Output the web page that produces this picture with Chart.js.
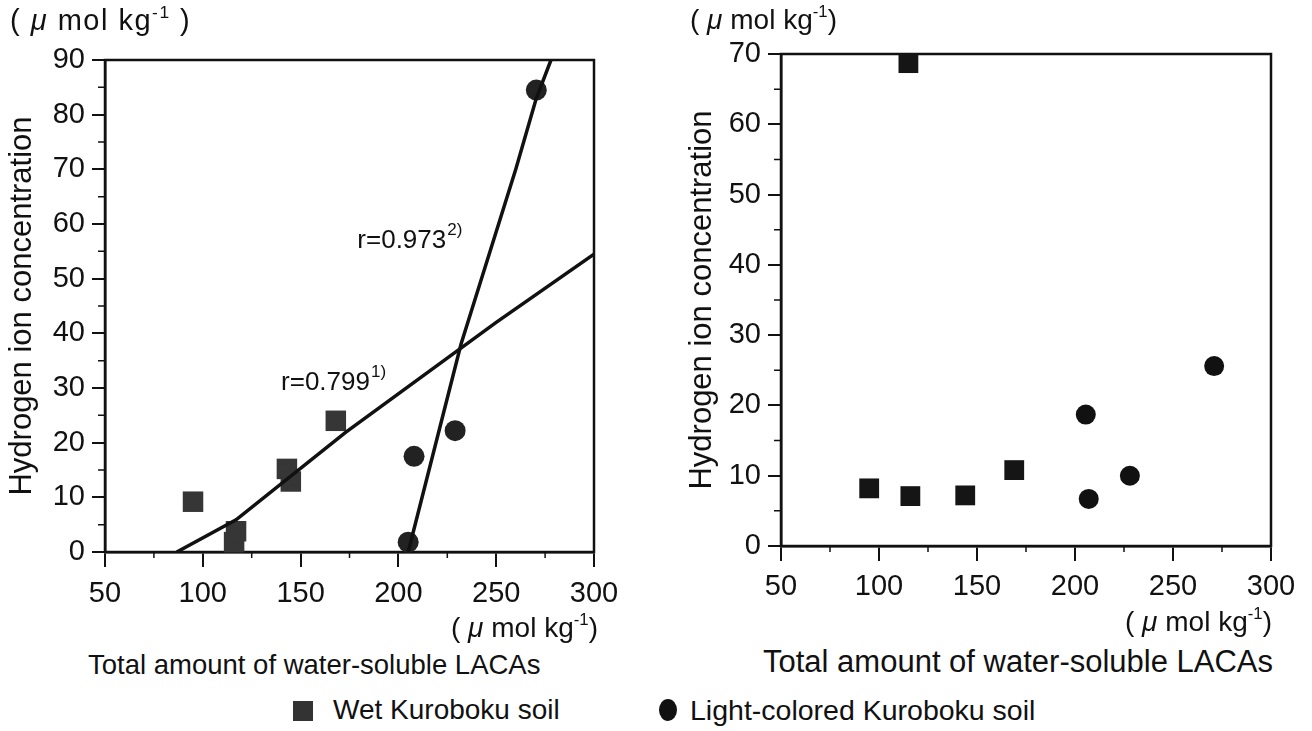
<!DOCTYPE html>
<html>
<head>
<meta charset="utf-8">
<script src="https://cdn.jsdelivr.net/npm/chart.js@4.4.1/dist/chart.umd.min.js"></script>
<style>
  body { margin: 0; width: 1312px; height: 731px; background: #fff; position: relative; overflow: hidden;
         font-family: 'Liberation Sans', Arial, sans-serif; color: #111; }
  .box { position: absolute; }
  .txt { position: absolute; white-space: nowrap; line-height: 1; }
  .txt sup { font-size: 0.6em; vertical-align: 0.7em; line-height: 0; }
  .mark { position: absolute; }
</style>
</head>
<body>
<div class="box" style="left:0;top:0;width:650px;height:640px"><canvas id="left"></canvas></div>
<div class="box" style="left:656px;top:0;width:656px;height:640px"><canvas id="right"></canvas></div>

<div class="txt" style="left:10px;top:6px;font-size:29px;letter-spacing:1.5px">(&nbsp;<i>μ</i>&nbsp;mol kg<sup>-1</sup>&nbsp;)</div>
<div class="txt" style="left:690px;top:6px;font-size:28px">(&nbsp;<i>μ</i> mol kg<sup>-1</sup>)</div>
<div class="txt" style="left:451px;top:614px;font-size:28px">(&nbsp;<i>μ</i> mol kg<sup>-1</sup>)</div>
<div class="txt" style="left:1125px;top:608px;font-size:28px">(&nbsp;<i>μ</i> mol kg<sup>-1</sup>)</div>
<div class="txt" style="left:88px;top:651px;font-size:27.5px">Total amount of water-soluble LACAs</div>
<div class="txt" style="left:763px;top:646px;font-size:31px">Total amount of water-soluble LACAs</div>

<div class="mark" style="left:293px;top:701px;width:20px;height:20px;background:#333"></div>
<div class="txt" style="left:333px;top:696px;font-size:28px">Wet Kuroboku soil</div>
<div class="mark" style="left:659px;top:699px;width:18px;height:22px;border-radius:50%;background:#111"></div>
<div class="txt" style="left:690px;top:696px;font-size:28.5px">Light-colored Kuroboku soil</div>

<script>
// axis ticks
const xTicks = [50, 100, 150, 200, 250, 300]
const xMinor = [75, 125, 175, 225, 275]
const yTicksLeft = [0, 10, 20, 30, 40, 50, 60, 70, 80, 90]
const yMinorLeft = [5, 15, 25, 35, 45, 55, 65, 75, 85]
const yTicksRight = [0, 10, 20, 30, 40, 50, 60, 70]
const yMinorRight = [5, 15, 25, 35, 45, 55, 65]

// left panel: measured points
const wetXLeft = [95, 116, 117, 143, 145, 168]
const wetYLeft = [9.2, 1.8, 3.8, 15.2, 12.9, 24]
const lightXLeft = [205, 208, 229, 270.5]
const lightYLeft = [1.8, 17.5, 22.2, 84.5]

// left panel: regression lines
const fitWetX = [86.7, 117, 173, 250, 300]
const fitWetY = [0, 5.9, 21.9, 42, 54.5]
const fitLightX = [205, 232, 260, 270.5, 278]
const fitLightY = [0, 38, 70, 83, 90]

// left panel: correlation labels (text, x, y, superscript)
const rLabels = [
    { text: 'r=0.973', sup: '2)', x: 179, y: 57 },
    { text: 'r=0.799', sup: '1)', x: 140, y: 31 },
]

// right panel: measured points
const wetXRight = [95, 115, 116, 144, 169]
const wetYRight = [8.2, 68.7, 7.1, 7.2, 10.8]
const lightXRight = [205.5, 207, 228, 271]
const lightYRight = [18.7, 6.7, 10.0, 25.6]

const FONT = "'Liberation Sans', Arial, sans-serif"
const INK = '#111'

const toPoints = (xs, ys) => xs.map((x, i) => ({ x, y: ys[i] }))

// box round the plot + minor ticks
const framePlugin = {
    id: 'frame',
    beforeDatasetsDraw(chart) {
        const { ctx, chartArea: a, scales } = chart
        const o = chart.options.plugins.frame
        ctx.save()
        ctx.strokeStyle = INK
        ctx.lineWidth = 2.5
        ctx.strokeRect(a.left, a.top, a.right - a.left, a.bottom - a.top)

        // minor ticks
        ctx.lineWidth = 1.5
        ctx.beginPath()
        for (const v of o.xMinor) {
            const px = scales.x.getPixelForValue(v)
            ctx.moveTo(px, a.bottom)
            ctx.lineTo(px, a.bottom + 6)
        }
        for (const v of o.yMinor) {
            const py = scales.y.getPixelForValue(v)
            ctx.moveTo(a.left, py)
            ctx.lineTo(a.left - 7, py)
        }
        ctx.stroke()
        ctx.restore()
    },
    afterDatasetsDraw(chart) {
        const { ctx, scales } = chart
        const labels = chart.options.plugins.frame.labels || []
        ctx.save()
        ctx.fillStyle = INK
        ctx.textBaseline = 'middle'
        ctx.textAlign = 'left'
        for (const l of labels) {
            const px = scales.x.getPixelForValue(l.x)
            const py = scales.y.getPixelForValue(l.y)
            ctx.font = `26px ${FONT}`
            ctx.fillText(l.text, px, py)
            const w = ctx.measureText(l.text).width
            ctx.font = `17px ${FONT}`
            ctx.fillText(l.sup, px + w + 1, py - 10)
        }
        ctx.restore()
    }
}

// Create one panel
const createChart = (id, cfg) => {
    const scaleFont = { family: FONT, size: 29 }

    return new Chart(document.getElementById(id), {
        type: 'scatter',
        data: { datasets: cfg.datasets },
        options: {
            responsive: true,
            maintainAspectRatio: false,
            animation: false,
            layout: { padding: cfg.padding },
            plugins: {
                legend: { display: false },
                tooltip: { enabled: false },
                frame: { xMinor, yMinor: cfg.yMinor, labels: cfg.labels },
            },
            scales: {
                x: {
                    type: 'linear',
                    min: 50, max: 300,
                    afterBuildTicks: s => { s.ticks = xTicks.map(value => ({ value })) },
                    afterFit: s => { s.height = 64 },
                    border: { color: INK, width: 2.5 },
                    grid: { drawOnChartArea: false, color: INK, lineWidth: 2, tickLength: 15 },
                    ticks: { color: INK, font: scaleFont, padding: cfg.xPad, maxRotation: 0 },
                },
                y: {
                    type: 'linear',
                    min: 0, max: cfg.yMax,
                    afterBuildTicks: s => { s.ticks = cfg.yTicks.map(value => ({ value })) },
                    afterFit: s => { s.width = cfg.yWidth },
                    border: { color: INK, width: 2.5 },
                    grid: { drawOnChartArea: false, color: INK, lineWidth: 2, tickLength: 13 },
                    ticks: { color: INK, font: scaleFont, padding: 7 },
                    title: {
                        display: true,
                        text: 'Hydrogen ion concentration',
                        color: INK,
                        font: { family: FONT, size: 31 },
                        padding: { top: cfg.titlePad, bottom: 0 },
                    },
                },
            },
        },
        plugins: [framePlugin],
    })
}

const wetStyle = (color, r) => ({ pointStyle: 'rect', pointRadius: r, backgroundColor: color, borderWidth: 0, clip: false })
const lightStyle = (color, r) => ({ pointStyle: 'circle', pointRadius: r, backgroundColor: color, borderWidth: 0, clip: false })
const fitStyle = { showLine: true, pointRadius: 0, borderColor: INK, borderWidth: 3.5, fill: false }

// Left: with regression lines
createChart('left', {
    padding: { left: 0, top: 60, right: 56, bottom: 24 },
    yMax: 90,
    yTicks: yTicksLeft,
    yMinor: yMinorLeft,
    yWidth: 105,
    titlePad: 4,
    xPad: 10,
    labels: rLabels,
    datasets: [
        { label: 'fit wet', data: toPoints(fitWetX, fitWetY), ...fitStyle },
        { label: 'fit light', data: toPoints(fitLightX, fitLightY), ...fitStyle },
        { label: 'Wet Kuroboku soil', data: toPoints(wetXLeft, wetYLeft), ...wetStyle('#363636', 14.5) },
        { label: 'Light-colored Kuroboku soil', data: toPoints(lightXLeft, lightYLeft), ...lightStyle('#222', 10.5) },
    ],
})

// Right: points only
createChart('right', {
    padding: { left: 0, top: 54, right: 41, bottom: 30 },
    yMax: 70,
    yTicks: yTicksRight,
    yMinor: yMinorRight,
    yWidth: 125,
    titlePad: 28,
    xPad: 9,
    labels: [],
    datasets: [
        { label: 'Wet Kuroboku soil', data: toPoints(wetXRight, wetYRight), ...wetStyle('#151515', 14) },
        { label: 'Light-colored Kuroboku soil', data: toPoints(lightXRight, lightYRight), ...lightStyle('#111', 10) },
    ],
})
</script>
</body>
</html>
